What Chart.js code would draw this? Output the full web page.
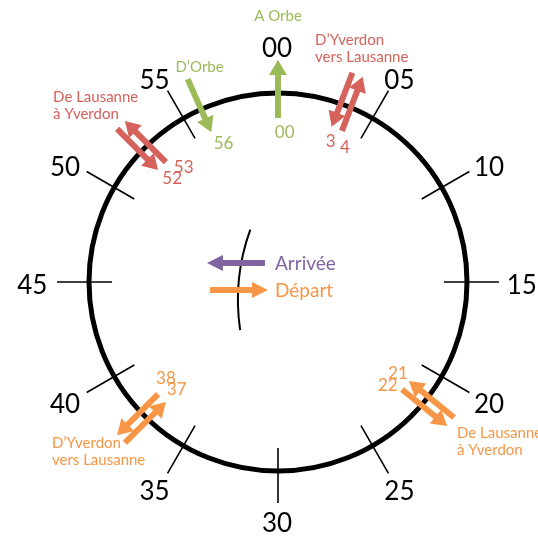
<!DOCTYPE html>
<html>
<head>
<meta charset="utf-8">
<script src="https://cdn.jsdelivr.net/npm/chart.js@4"></script>
<style>
  html, body { margin: 0; padding: 0; background: #fff; }
  canvas { display: block; }
</style>
</head>
<body>
<canvas id="chart" width="538" height="539"></canvas>
<script>
// Dial: minute marks and their labels
const dialMinutes = [0, 5, 10, 15, 20, 25, 30, 35, 40, 45, 50, 55];
const dialLabels = ['00', '05', '10', '15', '20', '25', '30', '35', '40', '45', '50', '55'];

// Train events (arr = arrow into the dial, dep = arrow out of it)
const eventMinutes = [0, 56, 3, 4, 52, 53, 21, 22, 37, 38];
const eventLabels = ['00', '56', '3', '4', '52', '53', '21', '22', '37', '38'];
const eventKinds = ['dep', 'arr', 'arr', 'dep', 'arr', 'dep', 'arr', 'dep', 'arr', 'dep'];
const eventLines = ['toOrbe', 'fromOrbe', 'yvLsRed', 'yvLsRed', 'lsYvRed', 'lsYvRed', 'lsYvOrange', 'lsYvOrange', 'yvLsOrange', 'yvLsOrange'];

// Lines
const lineIds = ['toOrbe', 'fromOrbe', 'yvLsRed', 'lsYvRed', 'lsYvOrange', 'yvLsOrange'];
const lineNames = [['A Orbe'], ['D\u2019Orbe'], ['D\u2019Yverdon', 'vers Lausanne'], ['De Lausanne', '\u00e0 Yverdon'], ['De Lausanne', '\u00e0 Yverdon'], ['D\u2019Yverdon', 'vers Lausanne']];
const lineColors = ['#9BBB59', '#9BBB59', '#D5625B', '#D5625B', '#F79646', '#F79646'];

// Key
const keyLabels = ['Arriv\u00e9e', 'D\u00e9part'];
const keyColors = ['#8064A2', '#F79646'];

// where the line names sit (dial units, radius = 1)
const nameLayout = {
  toOrbe: { x: 0, y: 1.408, align: 'center' },
  fromOrbe: { x: -0.415, y: 1.138, align: 'center' },
  yvLsRed: { x: 0.196, y: 1.280, align: 'left' },
  lsYvRed: { x: -1.190, y: 0.979, align: 'left' },
  lsYvOrange: { x: 0.947, y: -0.799, align: 'left' },
  yvLsOrange: { x: -1.196, y: -0.852, align: 'left' }
};

const FONT = 'Lato, "Open Sans", sans-serif';

function drawArrow(ctx, x0, y0, x1, y1, shaftW, headL, headW, color) {
  const dx = x1 - x0, dy = y1 - y0;
  const len = Math.hypot(dx, dy);
  const ux = dx / len, uy = dy / len;
  const px = -uy, py = ux;
  const bx = x1 - ux * headL, by = y1 - uy * headL;
  ctx.beginPath();
  ctx.moveTo(x0 + px * shaftW / 2, y0 + py * shaftW / 2);
  ctx.lineTo(bx + px * shaftW / 2, by + py * shaftW / 2);
  ctx.lineTo(bx + px * headW / 2, by + py * headW / 2);
  ctx.lineTo(x1, y1);
  ctx.lineTo(bx - px * headW / 2, by - py * headW / 2);
  ctx.lineTo(bx - px * shaftW / 2, by - py * shaftW / 2);
  ctx.lineTo(x0 - px * shaftW / 2, y0 - py * shaftW / 2);
  ctx.closePath();
  ctx.fillStyle = color;
  ctx.fill();
}

const clockPlugin = {
  id: 'clock',
  afterDraw(chart) {
    const ctx = chart.ctx;
    const xs = chart.scales.x, ys = chart.scales.y;
    const X = v => xs.getPixelForValue(v);
    const Y = v => ys.getPixelForValue(v);
    const unit = X(1) - X(0);
    const polar = (minute, r, ry) => {
      const a = minute / 60 * Math.PI * 2;
      return [X(r * Math.sin(a)), Y((ry || r) * Math.cos(a))];
    };

    ctx.save();

    // dial circle
    ctx.beginPath();
    ctx.arc(X(0), Y(0), unit, 0, Math.PI * 2);
    ctx.lineWidth = 5;
    ctx.strokeStyle = '#000';
    ctx.stroke();

    // tick marks
    ctx.lineWidth = 1.6;
    dialMinutes.forEach(m => {
      const [ax, ay] = polar(m, 0.878);
      const [bx, by] = polar(m, 1.169);
      ctx.beginPath();
      ctx.moveTo(ax, ay);
      ctx.lineTo(bx, by);
      ctx.stroke();
    });

    // dial labels
    ctx.fillStyle = '#000';
    ctx.font = '26px ' + FONT;
    ctx.textAlign = 'center';
    ctx.textBaseline = 'middle';
    dialMinutes.forEach((m, i) => {
      const [tx, ty] = polar(m, 1.295, 1.255);
      ctx.fillText(dialLabels[i], tx - 1, ty + 4);
    });

    // event arrows, paired ones side by side
    eventMinutes.forEach((m, i) => {
      const line = eventLines[i];
      const color = lineColors[lineIds.indexOf(line)];
      const mates = eventMinutes.filter((_, j) => eventLines[j] === line);
      const mid = mates.reduce((s, v) => s + v, 0) / mates.length;
      let shift = 0;
      if (mates.length > 1) shift = m === Math.min(...mates) ? -5.5 : 5.5;
      const a = mid / 60 * Math.PI * 2;
      const tx = Math.cos(a) * shift, ty = Math.sin(a) * shift;
      const [ix, iy] = polar(mid, 0.868);
      const [ox, oy] = polar(mid, 1.175);
      if (eventKinds[i] === 'dep') {
        drawArrow(ctx, ix + tx, iy + ty, ox + tx, oy + ty, 6, 15, 18, color);
      } else {
        drawArrow(ctx, ox + tx, oy + ty, ix + tx, iy + ty, 6, 15, 18, color);
      }
      ctx.fillStyle = color;
      ctx.font = '17px ' + FONT;
      ctx.textAlign = 'center';
      ctx.textBaseline = 'middle';
      const [lx, ly] = polar(m + 0.3, 0.79);
      ctx.fillText(eventLabels[i], lx + 2, ly);
    });

    // line names
    ctx.font = '15px ' + FONT;
    ctx.textBaseline = 'middle';
    lineIds.forEach((id, i) => {
      const pos = nameLayout[id];
      ctx.fillStyle = lineColors[i];
      ctx.textAlign = pos.align;
      lineNames[i].forEach((txt, k) => {
        ctx.fillText(txt, X(pos.x), Y(pos.y) + k * 17);
      });
    });

    // small arc in the middle
    ctx.beginPath();
    ctx.arc(X(0.878), Y(-0.095), 1.09 * unit, 2.995, 3.49);
    ctx.lineWidth = 2;
    ctx.strokeStyle = '#000';
    ctx.stroke();

    // key
    const keyY = [0.1005, -0.042];
    ctx.font = '19px ' + FONT;
    ctx.textAlign = 'left';
    keyLabels.forEach((lab, i) => {
      if (i === 0) {
        drawArrow(ctx, X(-0.069), Y(keyY[i]), X(-0.376), Y(keyY[i]), 6, 16, 16, keyColors[i]);
      } else {
        drawArrow(ctx, X(-0.360), Y(keyY[i]), X(-0.053), Y(keyY[i]), 6, 16, 16, keyColors[i]);
      }
      ctx.fillStyle = keyColors[i];
      ctx.fillText(lab, X(-0.016), Y(keyY[i]) + 1);
    });

    ctx.restore();
  }
};

new Chart(document.getElementById('chart'), {
  type: 'scatter',
  data: { datasets: [] },
  options: {
    responsive: false,
    animation: false,
    devicePixelRatio: 1,
    layout: { padding: 0 },
    plugins: { legend: { display: false }, tooltip: { enabled: false } },
    scales: {
      x: { type: 'linear', display: false, min: -278 / 189, max: (538 - 278) / 189 },
      y: { type: 'linear', display: false, min: (282 - 539) / 189, max: 282 / 189 }
    }
  },
  plugins: [clockPlugin]
});
</script>
</body>
</html>
